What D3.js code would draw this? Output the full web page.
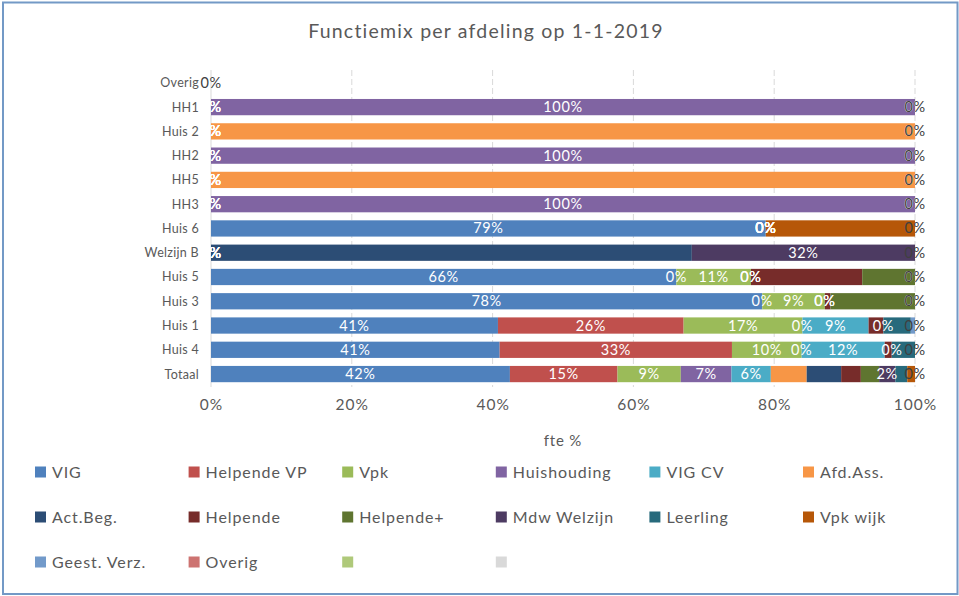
<!DOCTYPE html>
<html>
<head>
<meta charset="utf-8">
<script src="https://cdnjs.cloudflare.com/ajax/libs/d3/7.8.5/d3.min.js"></script>
<style>
    body { margin: 0; background: #fff; }
    svg text { font-family: Lato, "Open Sans", sans-serif; }
</style>
</head>
<body>
<svg id="chart" width="959" height="596"></svg>
<script>
// categories, top to bottom
var categories = ["Overig", "HH1", "Huis 2", "HH2", "HH5", "HH3", "Huis 6", "Welzijn B",
    "Huis 5", "Huis 3", "Huis 1", "Huis 4", "Totaal"];

// series values, one per category (fte share)
var vig         = [0, 0, 0, 0, 0, 0, 0.788, 0, 0.661, 0.783, 0.408, 0.410, 0.425];
var helpendeVP  = [0, 0, 0, 0, 0, 0, 0, 0, 0, 0, 0.264, 0.330, 0.153];
var vpk         = [0, 0, 0, 0, 0, 0, 0, 0, 0.106, 0.089, 0.169, 0.099, 0.090];
var huishouding = [0, 1, 0, 1, 0, 1, 0, 0, 0, 0, 0, 0, 0.072];
var vigCV       = [0, 0, 0, 0, 0, 0, 0, 0, 0, 0, 0.094, 0.118, 0.056];
var afdAss      = [0, 0, 1, 0, 1, 0, 0, 0, 0, 0, 0, 0, 0.051];
var actBeg      = [0, 0, 0, 0, 0, 0, 0, 0.683, 0, 0, 0, 0, 0.049];
var helpende    = [0, 0, 0, 0, 0, 0, 0, 0, 0.158, 0.008, 0.021, 0.010, 0.028];
var helpendePl  = [0, 0, 0, 0, 0, 0, 0, 0, 0.075, 0.120, 0, 0, 0.026];
var mdwWelzijn  = [0, 0, 0, 0, 0, 0, 0, 0.317, 0, 0, 0, 0, 0.023];
var leerling    = [0, 0, 0, 0, 0, 0, 0, 0, 0, 0, 0.039, 0.033, 0.017];
var vpkWijk     = [0, 0, 0, 0, 0, 0, 0.212, 0, 0, 0, 0, 0, 0.011];
var geestVerz   = [0, 0, 0, 0, 0, 0, 0, 0, 0, 0, 0.006, 0, 0];
var overig      = [0, 0, 0, 0, 0, 0, 0, 0, 0, 0, 0, 0, 0];
var leeg1       = [0, 0, 0, 0, 0, 0, 0, 0, 0, 0, 0, 0, 0];
var leeg2       = [0, 0, 0, 0, 0, 0, 0, 0, 0, 0, 0, 0, 0];

var seriesNames = ["VIG", "Helpende VP", "Vpk", "Huishouding", "VIG CV", "Afd.Ass.",
    "Act.Beg.", "Helpende", "Helpende+", "Mdw Welzijn", "Leerling", "Vpk wijk",
    "Geest. Verz.", "Overig", "", " "];
var seriesValues = [vig, helpendeVP, vpk, huishouding, vigCV, afdAss, actBeg, helpende,
    helpendePl, mdwWelzijn, leerling, vpkWijk, geestVerz, overig, leeg1, leeg2];
var seriesColors = ["#4F81BD", "#C0504D", "#9BBB59", "#8064A2", "#4BACC6", "#F79646",
    "#2C4D75", "#772C2A", "#5F7530", "#4D3B62", "#276A7C", "#B65708",
    "#729ACA", "#CD7371", "#AFC97A", "#D9D9D9"];
// which series carry data labels
var labelled = ["VIG", "Helpende VP", "Vpk", "Huishouding", "VIG CV", "Mdw Welzijn", " "];

var xTicks = [0, 0.2, 0.4, 0.6, 0.8, 1];

var svg = d3.select("#chart");
var grey = "#595959";

// chart border
svg.append("rect").attr("x", 3).attr("y", 2.5).attr("width", 954.5).attr("height", 591.5)
    .attr("fill", "none").attr("stroke", "#7399C6").attr("stroke-width", 2);

svg.append("text").attr("x", 486).attr("y", 38).attr("text-anchor", "middle")
    .attr("font-size", 19.5).attr("letter-spacing", 1.2).attr("fill", grey)
    .text("Functiemix per afdeling op 1-1-2019");

var x = d3.scaleLinear().domain([0, 1]).range([211, 915]);
var y = d3.scaleBand().domain(categories).range([70.7, 386.2])
    .paddingInner(0.33).paddingOuter(0.165);

// build rows for the stack
var rows = categories.map(function(c, i) {
    var r = { cat: c };
    seriesNames.forEach(function(n, s) { r[n] = seriesValues[s][i]; });
    return r;
});
var stacked = d3.stack().keys(seriesNames).offset(d3.stackOffsetExpand)(rows);

// gridlines
svg.append("g").selectAll("line").data(xTicks.slice(1)).enter().append("line")
    .attr("x1", function(d) { return x(d); }).attr("x2", function(d) { return x(d); })
    .attr("y1", 70).attr("y2", 387)
    .attr("stroke", "#D9D9D9").attr("stroke-width", 1).attr("stroke-dasharray", "6,3");
svg.append("line").attr("x1", x(0)).attr("x2", x(0)).attr("y1", 70).attr("y2", 387)
    .attr("stroke", "#D9D9D9");

// bars
var groups = svg.append("g").selectAll("g").data(stacked).enter().append("g")
    .attr("fill", function(d, i) { return seriesColors[i]; });
groups.selectAll("rect").data(function(d) { return d; }).enter().append("rect")
    .attr("x", function(d) { return x(d[0]); })
    .attr("y", function(d) { return y(d.data.cat); })
    .attr("width", function(d) { return Math.max(0, x(d[1]) - x(d[0])); })
    .attr("height", y.bandwidth());

// data labels
var labelLayer = svg.append("g").attr("text-anchor", "middle").attr("font-size", 14.5)
    .attr("letter-spacing", 0.6);
stacked.forEach(function(ser) {
    if (labelled.indexOf(ser.key) < 0) return;
    var last = ser.key === " ";
    labelLayer.append("g").selectAll("text").data(ser).enter().append("text")
        .attr("x", function(d) { return x((d[0] + d[1]) / 2); })
        .attr("y", function(d) { return y(d.data.cat) + y.bandwidth() / 2 + 5; })
        .attr("fill", last ? "#404040" : "#fff")
        .text(function(d) { return Math.round((d[1] - d[0]) * 100) + "%"; });
});

// category labels
svg.append("g").selectAll("text").data(categories).enter().append("text")
    .attr("x", 199).attr("y", function(d) { return y(d) + y.bandwidth() / 2 + 4.5; })
    .attr("text-anchor", "end").attr("font-size", 12.5).attr("letter-spacing", 0.3)
    .attr("fill", grey)
    .text(function(d) { return d; });

// x axis
var xAxis = svg.append("g").attr("transform", "translate(0,387)")
    .call(d3.axisBottom(x).tickValues(xTicks).tickFormat(d3.format(".0%")).tickSize(0).tickPadding(12));
xAxis.select(".domain").remove();
xAxis.selectAll("text").attr("font-size", 15.5).attr("letter-spacing", 1).attr("fill", grey)
    .attr("font-family", "Lato, sans-serif");
svg.append("text").attr("x", 563).attr("y", 446).attr("text-anchor", "middle")
    .attr("font-size", 15).attr("letter-spacing", 0.8).attr("fill", grey).text("fte %");

// legend, 6 columns
var legend = svg.append("g").selectAll("g").data(seriesNames).enter().append("g")
    .attr("transform", function(d, i) {
        return "translate(" + (35 + (i % 6) * 153.6) + "," + (472 + Math.floor(i / 6) * 45) + ")";
    });
legend.append("rect").attr("x", 0).attr("y", -5.5).attr("width", 11).attr("height", 11)
    .attr("fill", function(d, i) { return seriesColors[i]; });
legend.append("text").attr("x", 17).attr("y", 6).attr("font-size", 16).attr("letter-spacing", 0.9)
    .attr("fill", grey)
    .text(function(d) { return d.trim(); });
</script>
</body>
</html>
